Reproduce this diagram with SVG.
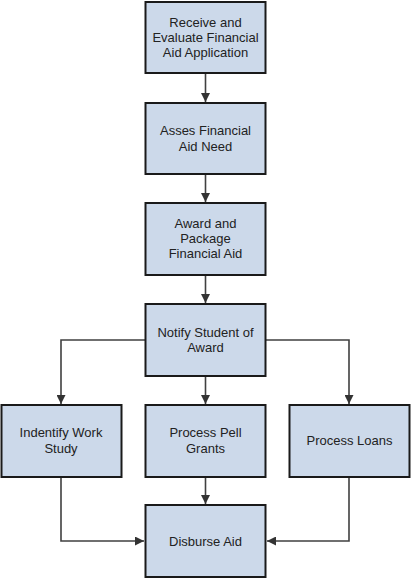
<svg xmlns="http://www.w3.org/2000/svg" width="411" height="579" viewBox="0 0 411 579">
<style>
.box{fill:#ccd9ea;stroke:#1a1a1a;stroke-width:2}
.t{font-family:"Liberation Sans",Arial,sans-serif;font-size:13px;fill:#222;text-anchor:middle}
.c{fill:none;stroke:#404040;stroke-width:1.6}
</style>
<defs>
<marker id="a" viewBox="0 0 10 10" refX="10" refY="5" markerWidth="9" markerHeight="9" markerUnits="userSpaceOnUse" orient="auto">
<path d="M0,0 L10,5 L0,10 z" fill="#333"/>
</marker>
</defs>
<rect width="411" height="579" fill="#fff"/>
<g id="connectors">
<path class="c" d="M205.5,73 V102" marker-end="url(#a)"/>
<path class="c" d="M205.5,174 V202" marker-end="url(#a)"/>
<path class="c" d="M205.5,275 V303" marker-end="url(#a)"/>
<path class="c" d="M205.5,376 V404" marker-end="url(#a)"/>
<path class="c" d="M145,340 H61 V404" marker-end="url(#a)"/>
<path class="c" d="M266,340 H349 V404" marker-end="url(#a)"/>
<path class="c" d="M205.5,477 V504" marker-end="url(#a)"/>
<path class="c" d="M61,477 V541 H144" marker-end="url(#a)"/>
<path class="c" d="M349,477 V541 H267" marker-end="url(#a)"/>
</g>
<g id="n1"><rect class="box" x="145.5" y="2" width="120" height="71"/>
<text class="t" x="205.5" y="27">Receive and</text><text class="t" x="205.5" y="42">Evaluate Financial</text><text class="t" x="205.5" y="57">Aid Application</text></g>
<g id="n2"><rect class="box" x="145.5" y="103" width="120" height="71"/>
<text class="t" x="205.5" y="135">Asses Financial</text><text class="t" x="205.5" y="150.5">Aid Need</text></g>
<g id="n3"><rect class="box" x="145.5" y="203" width="120" height="72"/>
<text class="t" x="205.5" y="228">Award and</text><text class="t" x="205.5" y="243">Package</text><text class="t" x="205.5" y="258">Financial Aid</text></g>
<g id="n4"><rect class="box" x="145.5" y="304" width="120" height="72"/>
<text class="t" x="205.5" y="336.5">Notify Student of</text><text class="t" x="205.5" y="352">Award</text></g>
<g id="n5"><rect class="box" x="1.5" y="405" width="120" height="72"/>
<text class="t" x="61" y="437">Indentify Work</text><text class="t" x="61" y="452.5">Study</text></g>
<g id="n6"><rect class="box" x="145.5" y="405" width="120" height="72"/>
<text class="t" x="205.5" y="437">Process Pell</text><text class="t" x="205.5" y="452.5">Grants</text></g>
<g id="n7"><rect class="box" x="289.5" y="405" width="120" height="72"/>
<text class="t" x="349.5" y="445">Process Loans</text></g>
<g id="n8"><rect class="box" x="145.5" y="505" width="120" height="72"/>
<text class="t" x="205.5" y="546">Disburse Aid</text></g>
</svg>
